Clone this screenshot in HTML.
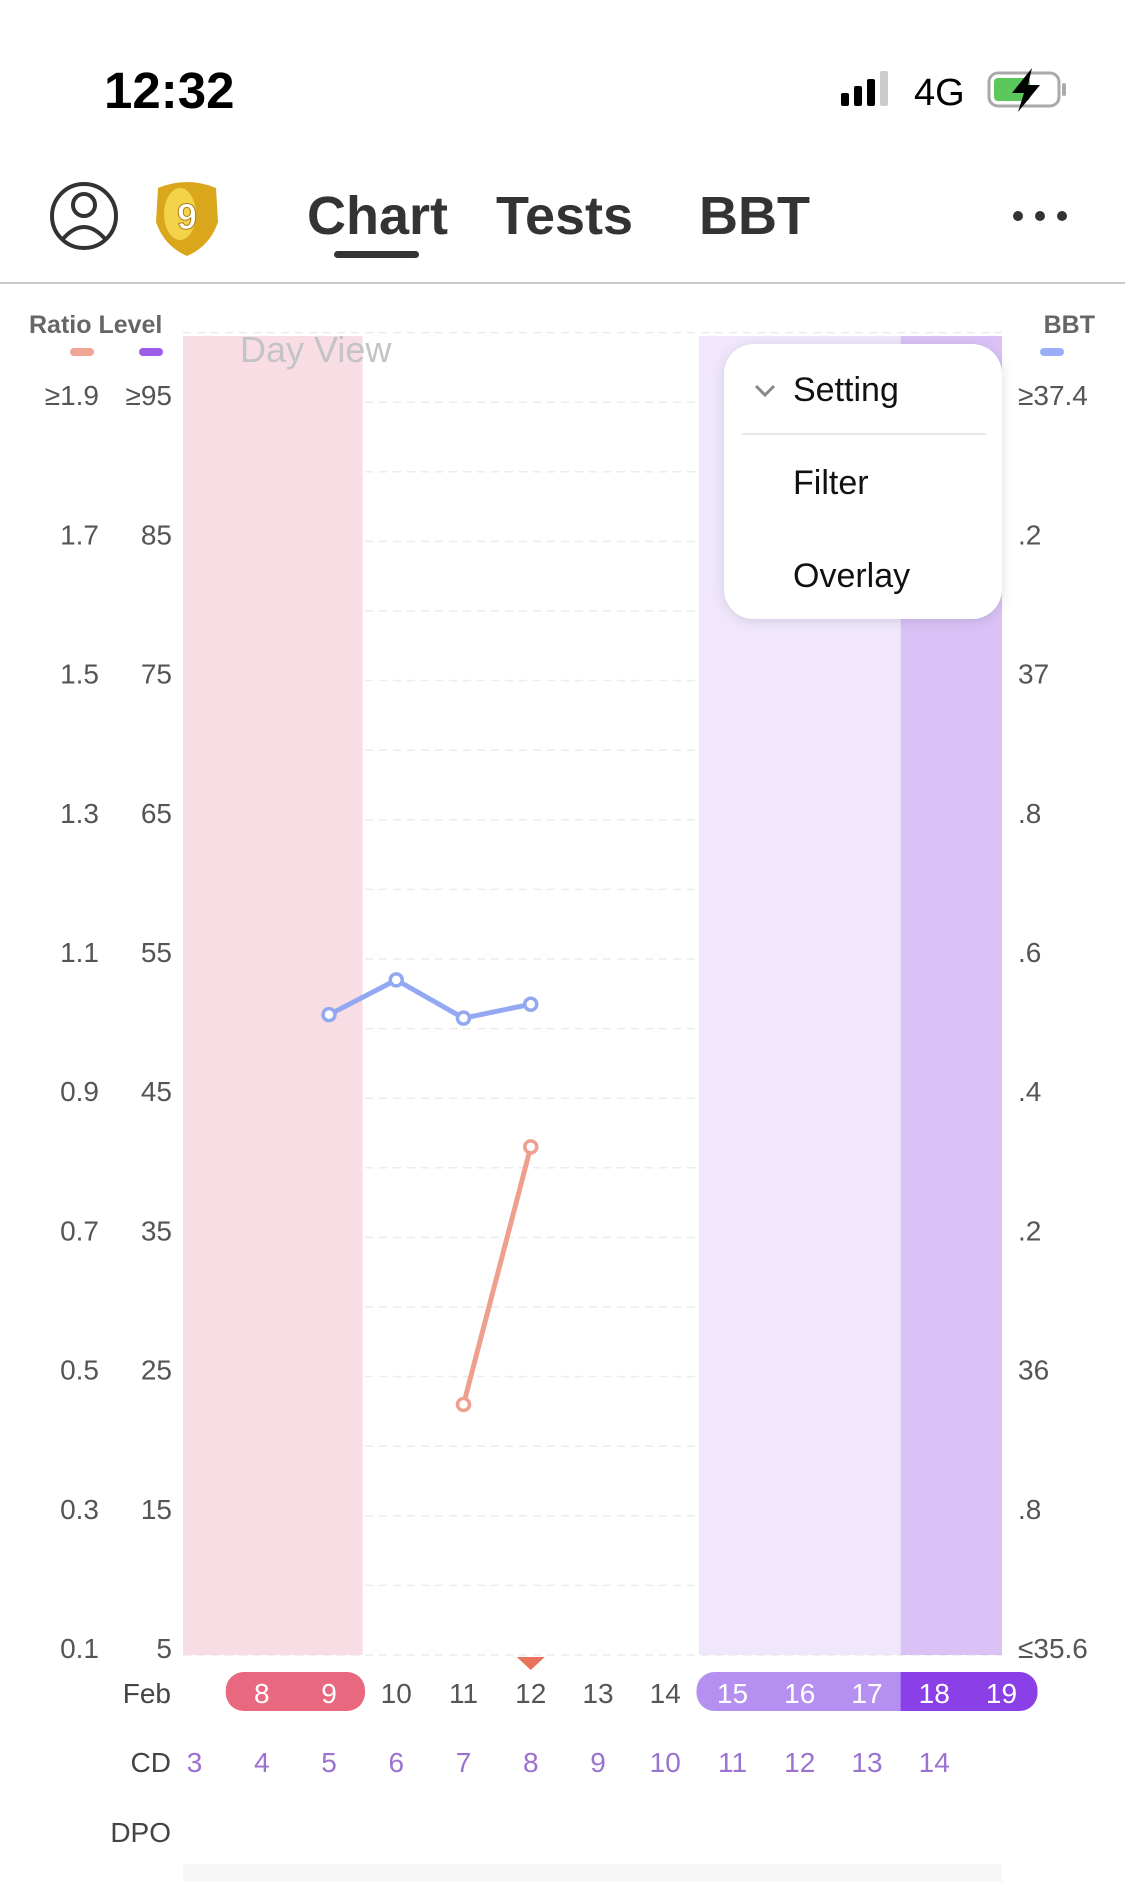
<!DOCTYPE html>
<html><head><meta charset="utf-8"><style>
html,body{margin:0;padding:0;background:#fff;}
svg{display:block;font-family:"Liberation Sans",sans-serif;}
</style></head><body>
<svg id="page" width="1125" height="1882" viewBox="0 0 1125 1882" xmlns="http://www.w3.org/2000/svg">
<defs><filter id="sh" x="-20%" y="-20%" width="140%" height="140%"><feDropShadow dx="0" dy="2" stdDeviation="6" flood-color="#000" flood-opacity="0.12"/></filter></defs>
<!-- status bar -->
<g>
<text x="104" y="108" font-size="51" font-weight="bold" fill="#000">12:32</text>
<g fill="#000">
<rect x="841" y="93" width="8" height="13" rx="2"/><rect x="854" y="86" width="8" height="20" rx="2"/><rect x="867" y="79" width="8" height="27" rx="2"/><rect x="880" y="71" width="8" height="35" rx="2" fill="#ccc"/></g>
<text x="914" y="105" font-size="38" fill="#000">4G</text>
<g>
<rect x="989" y="73" width="70" height="33" rx="9" fill="none" stroke="#aaa" stroke-width="3"/>
<rect x="994" y="78" width="36" height="23" rx="4" fill="#5ac85a"/>
<rect x="1062" y="83" width="4" height="13" rx="2" fill="#aaa"/>
<path d="M1032 68 L1012 93 L1024 93 L1018 112 L1040 85 L1028 85 Z" fill="#000"/></g>
</g>
<!-- nav -->
<g>
<g fill="none" stroke="#333" stroke-width="4">
<circle cx="84" cy="216" r="32"/><circle cx="84" cy="205" r="11"/><path d="M62 240 Q84 214 106 240"/></g>
<g>
<path d="M158 188 Q187 176 216 188 L218 222 Q210 246 187 256 Q164 246 156 222 Z" fill="#d9a61c"/>
<ellipse cx="180" cy="214" rx="16" ry="26" fill="#f3d34a"/>
<text x="187" y="229" font-size="36" font-weight="bold" text-anchor="middle" fill="#fff" stroke="#b07d10" stroke-width="1">9</text></g>
<text x="307" y="234" font-size="54" font-weight="bold" fill="#333">Chart</text>
<rect x="334" y="251" width="85" height="7" rx="3.5" fill="#333"/>
<text x="496" y="234" font-size="54" font-weight="bold" fill="#333">Tests</text>
<text x="699" y="234" font-size="54" font-weight="bold" fill="#333">BBT</text>
<g fill="#333"><circle cx="1018" cy="216" r="5"/><circle cx="1040" cy="216" r="5"/><circle cx="1062" cy="216" r="5"/></g>
<rect x="0" y="282" width="1125" height="2" fill="#c8c8c8"/>
</g>
<g id="chart"></g>
</svg>
<script>
const days=[7,8,9,10,11,12,13,14,15,16,17,18,19];
const cdLabels=[3,4,5,6,7,8,9,10,11,12,13,14];
const ratioTicks=["≥1.9","1.7","1.5","1.3","1.1","0.9","0.7","0.5","0.3","0.1"];
const levelTicks=["≥95","85","75","65","55","45","35","25","15","5"];
const bbtTicks=["≥37.4",".2","37",".8",".6",".4",".2","36",".8","≤35.6"];
const bbtDays=[9,10,11,12];
const bbtValues=[36.52,36.57,36.515,36.535];
const ratioDays=[11,12];
const ratioValues=[0.46,0.83];
const periodDays=[8,9];
const fertileDays=[15,16,17];
const peakDays=[18,19];
const todayDay=12;

const NS="http://www.w3.org/2000/svg";
const g=document.getElementById('chart');
const X0=183,X1=1002,TOP=336,BOT=1655,STEP=139.2;
function xDay(d){return 194.5+(d-7)*67.25;}
function yRatio(v){return BOT-(v-0.1)/0.2*STEP;}
function yBBT(v){return BOT-(v-35.6)/0.2*STEP;}
function mk(tag,attrs,parent){const e=document.createElementNS(NS,tag);for(const k in attrs)e.setAttribute(k,attrs[k]);(parent||g).appendChild(e);return e;}
function txt(s,attrs){const e=mk('text',attrs);e.textContent=s;return e;}

// gridlines
for(let i=0;i<=19;i++){const y=BOT-i*STEP/2;
 const l=mk('line',{x1:X0,x2:X1,y1:y,y2:y,stroke:'#ececec','stroke-width':1.5,'stroke-dasharray':'8 6'});
 
 }
// bands
let b=mk('rect',{x:X0,y:TOP,width:xDay(periodDays[periodDays.length-1])+33.6-X0,height:BOT-TOP,fill:'#f8dde4'});


b=mk('rect',{x:xDay(fertileDays[0])-33.6,y:TOP,width:fertileDays.length*67.25,height:BOT-TOP,fill:'#efe6fc','fill-opacity':0.95});


b=mk('rect',{x:xDay(peakDays[0])-33.6,y:TOP,width:X1-(xDay(peakDays[0])-33.6),height:BOT-TOP,fill:'#d8bff5','fill-opacity':0.95});


// tick labels
ratioTicks.forEach((t,i)=>{const y=BOT-(9-i)*STEP+3;
 let e=txt(t,{x:99,y:y,'font-size':28,fill:'#555','text-anchor':'end'});
 
 
 e=txt(levelTicks[i],{x:172,y:y,'font-size':28,fill:'#555','text-anchor':'end'});
 
 
 e=txt(bbtTicks[i],{x:1018,y:y,'font-size':28,fill:'#555'});
 
 });
let e=txt('Ratio Level',{x:29,y:333,'font-size':25,'font-weight':'bold',fill:'#666'});


e=txt('BBT',{x:1095,y:333,'font-size':25,'font-weight':'bold',fill:'#666','text-anchor':'end'});


[[70,'#f0a496','ratio-legend'],[139,'#9b5ce8','level-legend'],[1040,'#9aaef5','bbt-legend']].forEach(a=>{
 const r=mk('rect',{x:a[0],y:348,width:24,height:8,rx:4,fill:a[1]});
 
 });
e=txt('Day View',{x:240,y:362,'font-size':36,fill:'#c4c4c4'});


// series
function series(ds,vs,yf,color,name){
 const p=mk('polyline',{points:ds.map((d,i)=>xDay(d)+','+yf(vs[i])).join(' '),fill:'none',stroke:color,'stroke-width':5,'stroke-linejoin':'round'});
 
 
 ds.forEach((d,i)=>{const c=mk('circle',{cx:xDay(d),cy:yf(vs[i]),r:6,fill:'#fff',stroke:color,'stroke-width':3.5});
  
  });}
series(bbtDays,bbtValues,yBBT,'#93a8f2','bbt');
series(ratioDays,ratioValues,yRatio,'#ef9f8e','ratio');
// menu
const m=mk('g',{});


mk('rect',{x:724,y:344,width:278,height:275,rx:30,fill:'#fff',filter:'url(#sh)'},m);
mk('path',{d:'M756 386 L765 395 L774 386',fill:'none',stroke:'#888','stroke-width':3},m);
mk('line',{x1:742,x2:986,y1:434,y2:434,stroke:'#e8e8e8','stroke-width':2},m);
[['Setting',401,'setting-item'],['Filter',494,'filter-item'],['Overlay',587,'overlay-item']].forEach(a=>{
 const t=mk('text',{x:793,y:a[1],'font-size':34,fill:'#111'},m);t.textContent=a[0];
 
 });
// today marker
const tri=mk('path',{d:`M${xDay(todayDay)-14} 1657 L${xDay(todayDay)+14} 1657 L${xDay(todayDay)} 1670 Z`,fill:'#e8735a'});


// pills
function pill(d0,d1,color,name,r){const x0=xDay(d0)-36,x1=xDay(d1)+36;
 const p=mk('rect',{x:x0,y:1672,width:x1-x0,height:39,rx:r,fill:color});
 
 }
pill(periodDays[0],periodDays[periodDays.length-1],'#e8697f','period-pill',18);
pill(fertileDays[0],peakDays[peakDays.length-1],'#b590f0','fertile-pill',18);
const dk=mk('path',{d:`M${xDay(peakDays[0])-33.6} 1672 H${xDay(peakDays[peakDays.length-1])+18} a18 18 0 0 1 18 18 v3 a18 18 0 0 1 -18 18 H${xDay(peakDays[0])-33.6} Z`,fill:'#8b3fe6'});


e=txt('Feb',{x:171,y:1703,'font-size':28,fill:'#444','text-anchor':'end'});


days.slice(1).forEach(d=>{const white=periodDays.includes(d)||fertileDays.includes(d)||peakDays.includes(d);
 const t=txt(String(d),{x:xDay(d),y:1703,'font-size':28,fill:white?'#fff':'#555','text-anchor':'middle'});
 
 });
e=txt('CD',{x:171,y:1772,'font-size':28,fill:'#444','text-anchor':'end'});


cdLabels.forEach((c,i)=>{const t=txt(String(c),{x:xDay(days[i]),y:1772,'font-size':28,fill:'#9b72cf','text-anchor':'middle'});
 
 });
e=txt('DPO',{x:171,y:1842,'font-size':28,fill:'#444','text-anchor':'end'});


const bb=mk('rect',{x:X0,y:1864,width:X1-X0,height:18,fill:'#f7f7f7'});


</script>
</body></html>
